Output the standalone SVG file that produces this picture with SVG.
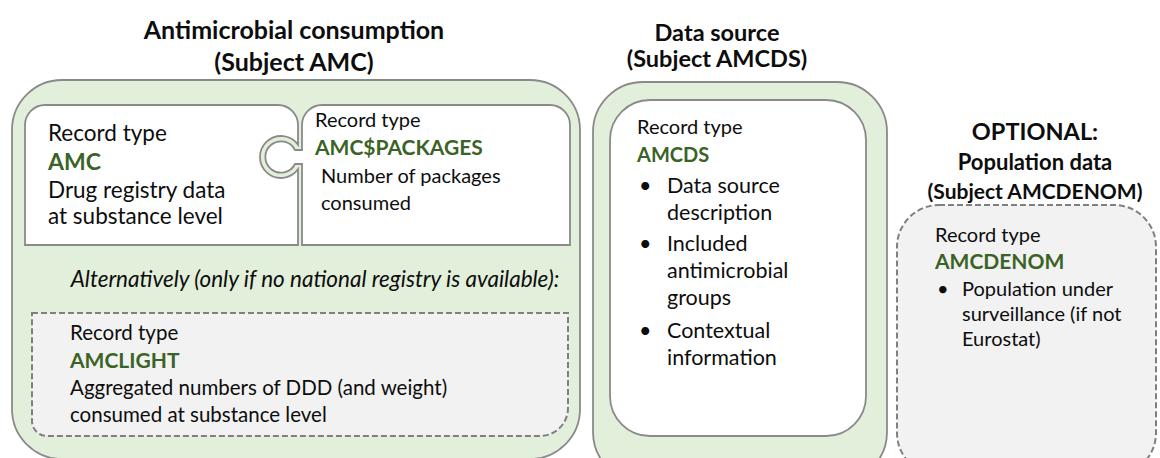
<svg xmlns="http://www.w3.org/2000/svg" width="1160" height="458" viewBox="0 0 1160 458">
<style>
.t{font-family:Lato,"Liberation Sans",sans-serif;fill:#0d0d0d}
.h{font-family:Lato,"Liberation Sans",sans-serif;font-weight:bold;fill:#0d0d0d;text-anchor:middle}
.g{font-family:Lato,"Liberation Sans",sans-serif;font-weight:bold;fill:#3b6325}
.green{fill:#e2efda;stroke:#8a8a8a;stroke-width:1.8}
.white{fill:#ffffff;stroke:#8a8a8a;stroke-width:1.8}
.dash{fill:#f2f2f2;stroke:#7f7f7f;stroke-width:2;stroke-dasharray:6 3}
</style>
<g id="titles">
<text class="h" font-size="25" x="294" y="39">Antimicrobial consumption</text>
<text class="h" font-size="25" x="294" y="71">(Subject AMC)</text>
<text class="h" font-size="23.5" x="717" y="41">Data source</text>
<text class="h" font-size="23.5" x="717" y="67">(Subject AMCDS)</text>
<text class="h" font-size="23.5" x="1035" y="140">OPTIONAL:</text>
<text class="h" font-size="22" x="1035" y="170">Population data</text>
<text class="h" font-size="21" x="1035" y="199">(Subject AMCDENOM)</text>
</g>
<g id="amc-subject">
<rect class="green" x="12" y="80" width="568" height="379" rx="50"/>
</g>
<g id="amc">
<path class="white" d="M45,105 H278 A20,20 0 0 1 298,125 V144.7 A21,21 0 1 0 298,169.3 V245 H25 V125 A20,20 0 0 1 45,105 Z"/>
<text class="t" font-size="22.5" x="48" y="141">Record type</text>
<text class="g" font-size="23" x="48" y="170">AMC</text>
<text class="t" font-size="22.5" x="48" y="198">Drug registry data</text>
<text class="t" font-size="22.5" x="48" y="224">at substance level</text>
</g>
<g id="amcpackages">
<path class="white" d="M322,105 H550 A20,20 0 0 1 570,125 V245 H302 V164 H295 A15.65,15.65 0 1 1 295,150 H302 V125 A20,20 0 0 1 322,105 Z"/>
<text class="t" font-size="20" x="315" y="127">Record type</text>
<text class="g" font-size="21" x="315" y="155">AMC$PACKAGES</text>
<text class="t" font-size="20" x="321" y="183">Number of packages</text>
<text class="t" font-size="20" x="321" y="210">consumed</text>
</g>
<g id="alternatively">
<text class="t" font-size="22.5" font-style="italic" x="315" y="287" text-anchor="middle">Alternatively (only if no national registry is available):</text>
</g>
<g id="amclight">
<path class="dash" d="M32,313 H568 V408 A28,28 0 0 1 540,436 H47 A15,15 0 0 1 32,421 Z"/>
<text class="t" font-size="20.5" x="70" y="340">Record type</text>
<text class="g" font-size="21" x="70" y="368">AMCLIGHT</text>
<text class="t" font-size="20.5" x="70" y="395">Aggregated numbers of DDD (and weight)</text>
<text class="t" font-size="20.5" x="70" y="422">consumed at substance level</text>
</g>
<g id="amcds">
<rect class="green" x="593" y="82" width="294" height="400" rx="50"/>
<rect class="white" x="610" y="100" width="256" height="336" rx="40"/>
<text class="t" font-size="20" x="637" y="134">Record type</text>
<text class="g" font-size="20" x="637" y="162">AMCDS</text>
<g class="t" font-size="21.5">
<text x="639" y="193">•</text><text x="667" y="193">Data source</text>
<text x="667" y="220">description</text>
<text x="639" y="251">•</text><text x="667" y="251">Included</text>
<text x="667" y="278">antimicrobial</text>
<text x="667" y="305">groups</text>
<text x="639" y="338">•</text><text x="667" y="338">Contextual</text>
<text x="667" y="365">information</text>
</g>
</g>
<g id="amcdenom">
<rect class="dash" x="897" y="205" width="259" height="270" rx="42"/>
<text class="t" font-size="20" x="935" y="242">Record type</text>
<text class="g" font-size="21" x="935" y="269">AMCDENOM</text>
<g class="t" font-size="20">
<text x="937" y="296">•</text><text x="962" y="296">Population under</text>
<text x="962" y="321">surveillance (if not</text>
<text x="962" y="346">Eurostat)</text>
</g>
</g>
<g id="connectors"/>
</svg>
